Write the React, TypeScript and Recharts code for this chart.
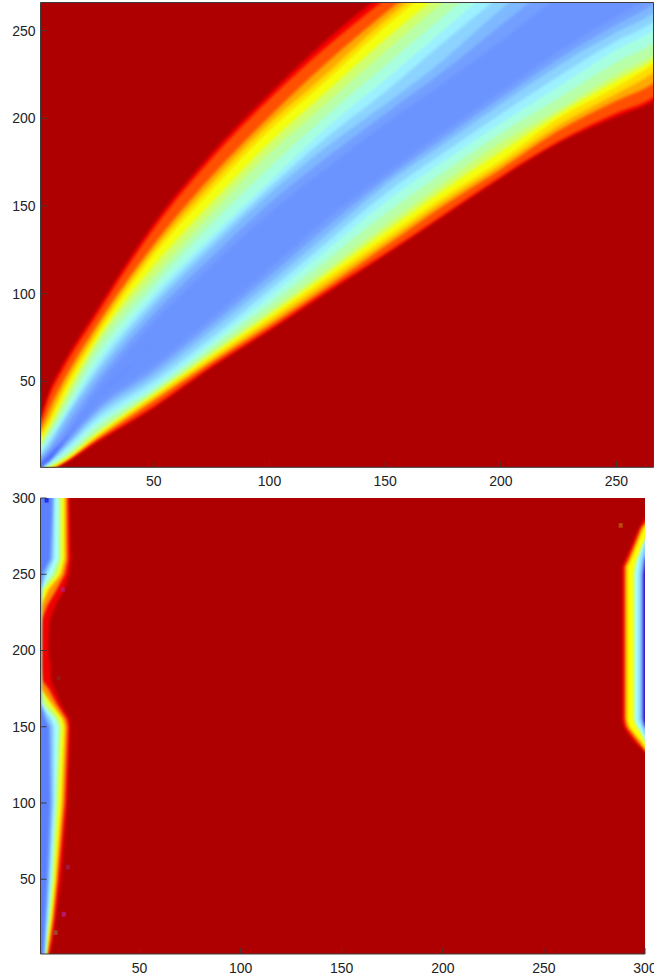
import { Area, CartesianGrid, ComposedChart, ReferenceArea, XAxis, YAxis } from "recharts";

// top panel: contour edges read per column (value of y at each x)
// x = -4 and 272 sit just outside the axis so the soft edges do not show at the frame
const topX = [-4, 1, 5, 10, 25, 50, 75, 100, 125, 150, 175, 200, 225, 250, 266, 272];

const topUpper = {
  edge: [15, 29, 45, 58, 90, 140, 180, 214, 245, 272, 296, 318, 338, 358, 370, 376],
  red: [14, 27, 42, 55, 87, 137, 177, 211, 241, 268, 293, 315, 335, 355, 367, 373],
  orange: [12, 23, 35, 48, 81, 128, 167, 201, 232, 260, 286, 309, 330, 349, 361, 367],
  amber: [10, 20, 30, 44, 78, 125, 163, 197, 226, 256, 282, 305, 326, 344, 356, 362],
  yellow: [9, 18, 27, 41, 75, 122, 159, 193, 222, 252, 279, 302, 322, 340, 352, 358],
  lime: [8, 16, 24.5, 37.5, 72.5, 116, 152, 186, 215.5, 245, 272, 297, 319, 338.5, 350.5, 356],
  green: [7, 14, 22, 34, 70, 110, 146, 180, 209, 238, 266, 292, 316, 337, 349, 355],
  mint: [6, 12, 20, 31, 65, 105, 140, 172, 202, 230, 258, 285, 310, 333.5, 347, 353],
  cyan: [5, 10, 18, 28, 60, 100, 133, 164, 195, 222, 250, 278, 304, 330, 345, 351],
  ice: [4, 8.5, 15.5, 26, 56.5, 96.5, 129.5, 160.5, 189.5, 215, 243, 270, 296, 320, 335, 341],
  sky: [3, 7, 13, 24, 53, 93, 126, 157, 184, 208, 233, 262, 288, 310, 325, 331],
  peri: [2, 5.5, 11.5, 20.5, 49, 88.5, 121, 151.5, 178, 202.5, 226.5, 253, 279, 302, 317.5, 323],
  blue: [1, 4, 10, 17, 45, 84, 116, 146, 172, 197, 220, 244, 270, 294, 310, 316],
  core: [0, 3.5, 8.5, 15, 40, 70, 100, 130, 160, 190, 210, 240, 260, 280, 300, 310],
};

const topLower = {
  edge: [-20, 0, 0, 2.5, 15, 35, 58, 79, 100.5, 122, 144, 166, 186, 201, 210, 216],
  red: [-20, 0, 0, 3, 16, 36, 59, 80, 102, 123, 145, 167, 187, 203, 212, 218],
  orange: [-20, 0, 0, 3.5, 17, 39, 61, 82, 104, 127, 150, 171, 193, 210, 220, 226],
  amber: [-20, 0, 0.5, 3.7, 18, 40.5, 62.5, 84, 106.5, 129.5, 152.5, 173.5, 196, 214, 226, 232],
  yellow: [-20, 0, 1, 4, 19, 42, 64, 86, 109, 132, 155, 176, 200, 218, 231, 237],
  lime: [-20, 0, 1.5, 5, 20, 43, 65.5, 88, 111.5, 135.5, 159, 181, 202.5, 221.5, 233.5, 240],
  green: [-20, 0, 2, 5.5, 21, 44, 67, 90, 114, 139, 163, 186, 205, 225, 236, 242],
  mint: [-20, 0, 2.5, 6.5, 23.5, 45.5, 69.5, 94, 119.5, 145.5, 169, 191.5, 211.5, 232, 243, 249],
  cyan: [-20, 0, 3, 8, 26, 47, 72, 98, 125, 152, 175, 197, 218, 239, 250, 256],
  ice: [-20, 0, 4, 9.5, 28.5, 50, 75, 102, 129.5, 157, 180, 202.5, 224, 244, 255, 261],
  sky: [-20, 0, 5, 11, 31, 53, 79, 106, 134, 162, 185, 208, 230, 249, 260, 266],
  peri: [-20, 0, 5.5, 12, 33, 56, 82.5, 110, 138.5, 165, 188.5, 211.5, 234, 253.5, 265, 271],
  blue: [-20, 0, 6, 13, 35, 59, 86, 114, 143, 168, 192, 215, 238, 258, 270, 276],
  core: [-20, 0, 5, 13.5, 40, 70, 100, 130, 160, 190, 210, 240, 260, 280, 300, 310],
};

// bottom panel, left stripe: contour edges read per row (value of x at each y)
const leftY = [-5, 1, 10, 25, 50, 100, 150, 155, 165, 175, 180, 190, 200, 210, 220, 230, 240, 250, 260, 300, 306];

const leftEdge = {
  edge: [4.7, 5.5, 7, 8.6, 11.2, 14.3, 15.7, 15.2, 11, 7.8, 6.2, 5.9, 5, 5, 5.6, 8.6, 12.7, 15.2, 16, 15.3, 15.3],
  orange: [4, 4.7, 6, 7.5, 9.5, 13, 14.5, 13.8, 9, 5, 2, 1, 1, 1, 1.5, 4.5, 9, 13, 14.5, 14.3, 14.3],
  yellow: [3.5, 4, 5, 6.6, 8.5, 11.5, 13, 12, 6.6, 1, 1, 1, 1, 1, 1, 1.5, 5, 11, 13, 13, 13],
  green: [3.2, 3.6, 4.4, 5.8, 7.5, 10, 11.5, 10.5, 5, 1, 1, 1, 1, 1, 1, 1, 3, 9.5, 11.5, 11.5, 11.5],
  cyan: [3, 3.4, 3.8, 5, 6.6, 8.5, 10, 8.6, 2, 1, 1, 1, 1, 1, 1, 1, 1.7, 7, 10, 10, 10],
  sky: [2.7, 3, 3.2, 4.2, 5.5, 7.5, 7.5, 6, 1, 1, 1, 1, 1, 1, 1, 1, 1, 4, 7.5, 8, 8],
  blue: [2.2, 2.5, 3, 3.5, 4.5, 6, 5.5, 3.5, 1, 1, 1, 1, 1, 1, 1, 1, 1, 2, 6, 7, 7],
};

// bottom panel, right stripe (320 = off the frame, nothing to draw on that row)
const rightY = [130, 134, 140, 145, 150, 155, 200, 250, 255, 260, 270, 280, 287, 300];

const rightEdge = {
  edge: [320, 300, 294.8, 291.8, 289.5, 288.7, 288.7, 288.7, 288.7, 290.4, 293.7, 297, 300, 320],
  orange: [320, 300.5, 296.5, 293.5, 290.8, 290, 290, 290, 290, 291.8, 295, 298, 302, 320],
  yellow: [320, 301, 298, 295, 292, 291, 291, 291, 291, 293, 296, 299, 303, 320],
  cyan: [320, 305, 300, 298.5, 296, 294.5, 294.5, 294.5, 295, 296, 299, 303, 320, 320],
  sky: [320, 320, 305, 300, 298.5, 297, 297, 297, 297.5, 298, 300, 304, 320, 320],
  blue: [320, 320, 320, 306, 300, 299, 299, 299, 299.5, 300, 304, 320, 320, 320],
};

// odd little marks in the image
const speckX = [12, 14.5, 12.5, 8.5, 10, 288, 4];
const speckY = [240, 58, 27, 15, 182, 282, 298.5];
const speckColor = ["#b0209a", "#a02060", "#c020a0", "#a06040", "#90201a", "#c06a10", "#0a10d0"];

const topTicks = [50, 100, 150, 200, 250];
const bottomTicks = [50, 100, 150, 200, 250, 300];

// each flat band takes the colour half way to the next contour
const topColors: Record<string, string> = {
  edge: "#f40000",
  red: "#ff5000",
  orange: "#ffa800",
  amber: "#ffdc00",
  yellow: "#f4ff10",
  lime: "#d0ff70",
  green: "#b8ffa8",
  mint: "#a8ffe0",
  cyan: "#9cf0ff",
  ice: "#8cd3ff",
  sky: "#7eb8ff",
  peri: "#739fff",
  blue: "#6c94ff",
  core: "#4c6cff",
};
const leftColors: Record<string, string> = {
  edge: "#f00000",
  orange: "#ff9000",
  yellow: "#ffff00",
  green: "#c8ff70",
  cyan: "#a4ffff",
  sky: "#84c4ff",
  blue: "#5c80ff",
};
const rightColors: Record<string, string> = { ...leftColors, blue: "#3000c0" };
const DARK_RED = "#ae0000";
const AXIS = "#3c3c3c";
const tickFont = { fontSize: 14, fontFamily: "'Liberation Sans', Arial, sans-serif", fill: "#222" };

const topKeys = Object.keys(topUpper);
const topRows = topX.map((x, i) => {
  const row: any = { x };
  topKeys.forEach((k) => {
    row[k] = [(topLower as any)[k][i], (topUpper as any)[k][i]];
  });
  return row;
});

const leftKeys = Object.keys(leftEdge);
const leftRows = leftY.map((y, i) => {
  const row: any = { y };
  leftKeys.forEach((k) => {
    row[k] = [-6, (leftEdge as any)[k][i]];
  });
  return row;
});

const rightKeys = Object.keys(rightEdge);
const rightRows = rightY.map((y, i) => {
  const row: any = { y };
  rightKeys.forEach((k) => {
    row[k] = [(rightEdge as any)[k][i], 320];
  });
  return row;
});

function TopPanel() {
  return (
    <div style={{ position: "absolute", left: 0, top: 0 }}>
      <ComposedChart width={654} height={490} data={topRows} margin={{ top: 0, right: 0, bottom: 0, left: 0 }}>
        <CartesianGrid horizontal={false} vertical={false} fill={DARK_RED} />
        <XAxis dataKey="x" type="number" domain={[1, 266]} allowDataOverflow ticks={topTicks} interval={0} height={22.7} tickSize={-6} tickMargin={15} tick={tickFont} stroke={AXIS} />
        <YAxis type="number" domain={[1, 266]} allowDataOverflow ticks={topTicks} interval={0} width={40.5} tickSize={-6} tickMargin={11} tick={tickFont} stroke={AXIS} />
        <XAxis xAxisId="top" orientation="top" type="number" domain={[1, 266]} allowDataOverflow ticks={topTicks} interval={0} tickSize={-6} tick={false} height={2.5} stroke={AXIS} />
        <YAxis yAxisId="right" orientation="right" type="number" domain={[1, 266]} allowDataOverflow ticks={topTicks} interval={0} tickSize={-6} tick={false} width={0.5} stroke={AXIS} />
        {topKeys.map((k) => (
          <Area key={k} dataKey={k} type="monotone" fill={topColors[k]} fillOpacity={1} stroke="none" dot={false} activeDot={false} isAnimationActive={false} filter="url(#soft)" />
        ))}
      </ComposedChart>
    </div>
  );
}

function BottomPanel() {
  return (
    <div style={{ position: "absolute", left: 0, top: 490, width: 654, height: 489 }}>
      <div style={{ position: "absolute", left: 0, top: 0 }}>
        <ComposedChart layout="vertical" width={654} height={489} data={leftRows} margin={{ top: 8, right: 9, bottom: 25, left: 40.5 }}>
          <CartesianGrid horizontal={false} vertical={false} fill={DARK_RED} />
          <XAxis type="number" domain={[1, 300]} allowDataOverflow hide />
          <YAxis dataKey="y" type="number" domain={[1, 300]} allowDataOverflow reversed hide />
          {leftKeys.map((k) => (
            <Area key={k} dataKey={k} type="linear" fill={leftColors[k]} fillOpacity={1} stroke="none" dot={false} activeDot={false} isAnimationActive={false} filter="url(#soft)" />
          ))}
          {speckX.map((x, i) => (
            <ReferenceArea key={i} x1={x - 1} x2={x + 1} y1={speckY[i] - 1.5} y2={speckY[i] + 1.5} fill={speckColor[i]} fillOpacity={0.7} stroke="none" />
          ))}
        </ComposedChart>
      </div>
      <div style={{ position: "absolute", left: 0, top: 0 }}>
        <ComposedChart layout="vertical" width={654} height={489} data={rightRows} margin={{ top: 8, right: 9, bottom: 0, left: 0 }}>
          <XAxis type="number" domain={[1, 300]} allowDataOverflow ticks={bottomTicks} interval={0} height={25} tickSize={-6} tickMargin={15} tick={tickFont} stroke={AXIS} />
          <YAxis dataKey="y" type="number" domain={[1, 300]} allowDataOverflow reversed ticks={bottomTicks} interval={0} width={40.5} tickSize={-6} tickMargin={11} tick={tickFont} stroke={AXIS} />
          {rightKeys.map((k) => (
            <Area key={k} dataKey={k} type="linear" fill={rightColors[k]} fillOpacity={1} stroke="none" dot={false} activeDot={false} isAnimationActive={false} filter="url(#soft)" />
          ))}
        </ComposedChart>
      </div>
    </div>
  );
}

export default function App() {
  return (
    <div style={{ position: "absolute", left: 0, top: 0, width: 654, height: 979, overflow: "hidden", background: "#fff" }}>
      <svg width={0} height={0} style={{ position: "absolute" }}>
        <defs>
          <filter id="soft" x="-5%" y="-5%" width="110%" height="110%">
            <feGaussianBlur stdDeviation="1.5" />
          </filter>
        </defs>
      </svg>
      <TopPanel />
      <BottomPanel />
    </div>
  );
}
